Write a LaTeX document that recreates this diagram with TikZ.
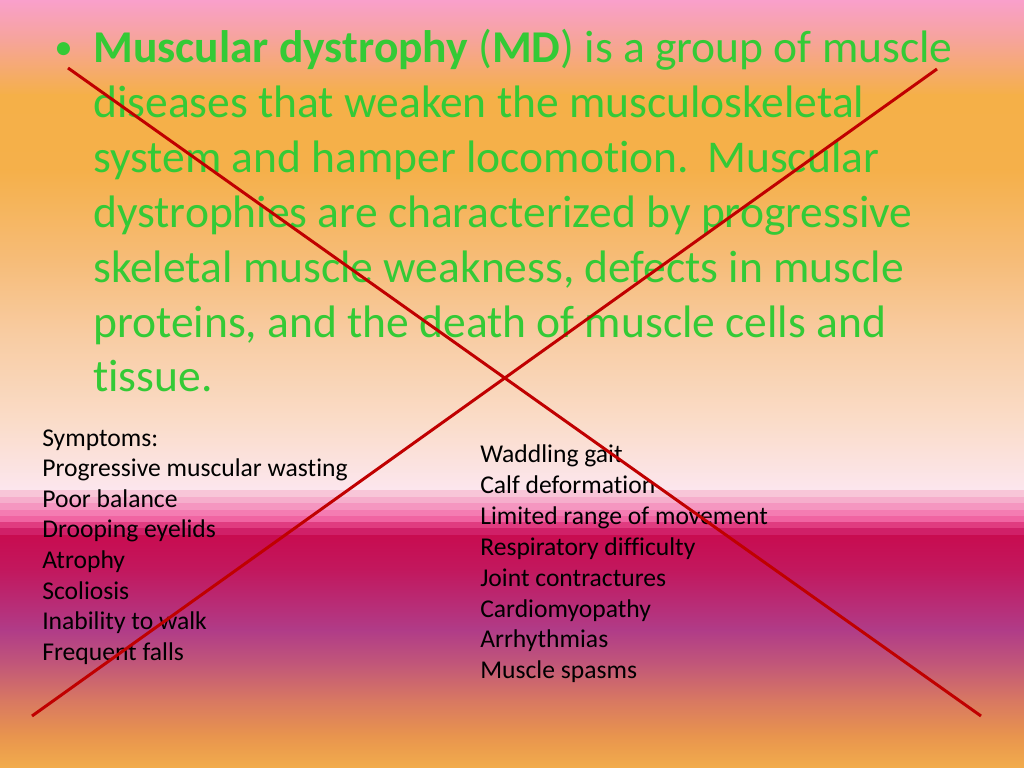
\documentclass[tikz,border=0pt]{standalone}
\usepackage{fontspec}
\setmainfont{Carlito}[Ligatures={NoCommon,NoContextual}]
\definecolor{txtgreen}{HTML}{34CA36}
\definecolor{xred}{HTML}{C00000}
\definecolor{cA}{HTML}{F9A0CB}
\definecolor{cB}{HTML}{F6A49A}
\definecolor{cC}{HTML}{F5B048}
\definecolor{cD}{HTML}{F5B04A}
\definecolor{cE}{HTML}{F6BC78}
\definecolor{cF}{HTML}{F8CBA0}
\definecolor{cG}{HTML}{FADCC8}
\definecolor{cH}{HTML}{FCE6EE}
\definecolor{s1}{HTML}{F8C6D8}
\definecolor{s2}{HTML}{F6AECC}
\definecolor{s3}{HTML}{F596C0}
\definecolor{s4}{HTML}{F47CB2}
\definecolor{s5}{HTML}{F064A2}
\definecolor{s6}{HTML}{E03C80}
\definecolor{s7}{HTML}{D02068}
\definecolor{cI}{HTML}{C80C50}
\definecolor{cJ}{HTML}{C2185E}
\definecolor{cK}{HTML}{B03C88}
\definecolor{cL}{HTML}{C25878}
\definecolor{cM}{HTML}{D87862}
\definecolor{cN}{HTML}{E8944E}
\definecolor{cO}{HTML}{F2AC4C}
\tikzset{
  bigtext/.style={anchor=base west, inner sep=0pt, text=txtgreen, font=\fontsize{32}{38}\selectfont},
  listtext/.style={anchor=base west, inner sep=0pt, text=black, font=\fontsize{18}{22}\selectfont},
  crossline/.style={draw=xred, line width=2.1pt}
}
\begin{document}
\begin{tikzpicture}[x=0.703125pt, y=-0.703125pt]
\useasboundingbox (0,0) rectangle (1024,768);
% background gradient
\shade[top color=cA, bottom color=cB] (0,0) rectangle (1024,40.5);
\shade[top color=cB, bottom color=cC] (0,40) rectangle (1024,95.5);
\shade[top color=cC, bottom color=cD] (0,95) rectangle (1024,170.5);
\shade[top color=cD, bottom color=cE] (0,170) rectangle (1024,260.5);
\shade[top color=cE, bottom color=cF] (0,260) rectangle (1024,330.5);
\shade[top color=cF, bottom color=cG] (0,330) rectangle (1024,420.5);
\shade[top color=cG, bottom color=cH] (0,420) rectangle (1024,490.5);
\fill[s1] (0,490) rectangle (1024,497.5);
\fill[s2] (0,497) rectangle (1024,503.5);
\fill[s3] (0,503) rectangle (1024,510.5);
\fill[s4] (0,510) rectangle (1024,516.5);
\fill[s5] (0,516) rectangle (1024,522.5);
\fill[s6] (0,522) rectangle (1024,528.5);
\fill[s7] (0,528) rectangle (1024,535.5);
\shade[top color=cI, bottom color=cJ] (0,535) rectangle (1024,570.5);
\shade[top color=cJ, bottom color=cK] (0,570) rectangle (1024,630.5);
\shade[top color=cK, bottom color=cL] (0,630) rectangle (1024,665.5);
\shade[top color=cL, bottom color=cM] (0,665) rectangle (1024,700.5);
\shade[top color=cM, bottom color=cN] (0,700) rectangle (1024,735.5);
\shade[top color=cN, bottom color=cO] (0,735) rectangle (1024,768);
% main paragraph
\node[bigtext, font=\fontsize{26}{30}\selectfont] (bul) at (54,60) {•};
\node[bigtext] (p1) at (93,63.0) {\textbf{Muscular dystrophy} (\textbf{MD}) is a group of muscle};
\node[bigtext] (p2) at (93,117.8) {diseases that weaken the musculoskeletal};
\node[bigtext] (p3) at (93,172.6) {system and hamper locomotion.\hspace{0.1em} Muscular};
\node[bigtext] (p4) at (93,227.4) {dystrophies are characterized by progressive};
\node[bigtext] (p5) at (93,282.2) {skeletal muscle weakness, defects in muscle};
\node[bigtext] (p6) at (93,337.0) {proteins, and the death of muscle cells and};
\node[bigtext] (p7) at (93,391.8) {tissue.};
% left list
\node[listtext] (l0) at (42,446.0) {Symptoms:};
\node[listtext] (l1) at (42,476.6) {Progressive muscular wasting};
\node[listtext] (l2) at (42,507.2) {Poor balance};
\node[listtext] (l3) at (42,537.8) {Drooping eyelids};
\node[listtext] (l4) at (42,568.4) {Atrophy};
\node[listtext] (l5) at (42,599.0) {Scoliosis};
\node[listtext] (l6) at (42,629.6) {Inability to walk};
\node[listtext] (l7) at (42,660.2) {Frequent falls};
% right list
\node[listtext] (r0) at (480,462.5) {Waddling gait};
\node[listtext] (r1) at (480,493.4) {Calf deformation};
\node[listtext] (r2) at (480,524.3) {Limited range of movement};
\node[listtext] (r3) at (480,555.2) {Respiratory difficulty};
\node[listtext] (r4) at (480,586.1) {Joint contractures};
\node[listtext] (r5) at (480,617.0) {Cardiomyopathy};
\node[listtext] (r6) at (480,647.9) {Arrhythmias};
\node[listtext] (r7) at (480,678.8) {Muscle spasms};
% cross
\coordinate (a1) at (68,68);
\coordinate (a2) at (981,716);
\coordinate (b1) at (937,69);
\coordinate (b2) at (32,716);
\draw[crossline] (a1) -- (a2);
\draw[crossline] (b1) -- (b2);
\end{tikzpicture}
\end{document}
